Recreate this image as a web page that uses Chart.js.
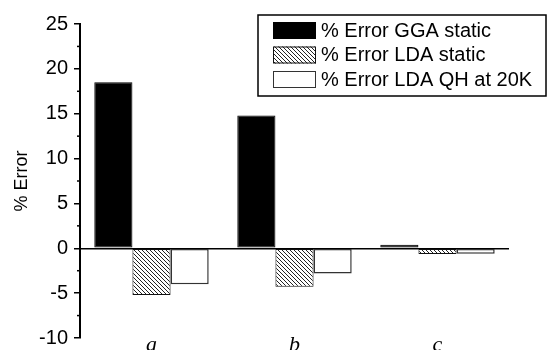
<!DOCTYPE html>
<html><head><meta charset="utf-8">
<script src="https://cdn.jsdelivr.net/npm/chart.js@4"></script>
<style>html,body{margin:0;padding:0;background:#fff;overflow:hidden}#wrap{width:547px;height:350px}</style>
</head><body><div id="wrap"><canvas id="c" width="547" height="350"></canvas></div>
<script>
const categories = ['a', 'b', 'c'];
const ggaStatic = [18.5, 14.8, 0.4];
const ldaStatic = [-5.2, -4.3, -0.65];
const ldaQH = [-4.0, -2.8, -0.6];
const seriesLabels = ['% Error GGA static', '% Error LDA static', '% Error LDA QH at 20K'];
const yTicks = [-10, -5, 0, 5, 10, 15, 20, 25];

function hatch() {
  const c = document.createElement('canvas'); c.width = 4; c.height = 4;
  const g = c.getContext('2d');
  g.fillStyle = '#fff'; g.fillRect(0, 0, 4, 4);
  g.strokeStyle = '#222'; g.lineWidth = 1;
  g.beginPath();
  g.moveTo(0, 0); g.lineTo(4, 4);
  g.moveTo(-1, 3); g.lineTo(1, 5);
  g.moveTo(3, -1); g.lineTo(5, 1);
  g.stroke();
  return g.createPattern(c, 'repeat');
}

const minorTicks = {
  id: 'minorTicks',
  afterDraw(chart) {
    const y = chart.scales.y, g = chart.ctx;
    g.save(); g.strokeStyle = '#000'; g.lineWidth = 1.5;
    for (let i = 0; i < yTicks.length - 1; i++) {
      const p = y.getPixelForValue((yTicks[i] + yTicks[i + 1]) / 2);
      g.beginPath(); g.moveTo(y.right - 3, p); g.lineTo(y.right, p); g.stroke();
    }
    g.restore();
  }
};

const legendBox = {
  id: 'legendBox',
  afterDraw(chart) {
    const g = chart.ctx;
    const L = 258, T = 15, R = 546, B = 96;
    g.save();
    g.fillStyle = '#fff'; g.fillRect(L, T, R - L, B - T);
    g.strokeStyle = '#000'; g.lineWidth = 1.5; g.strokeRect(L, T, R - L, B - T);
    chart.data.datasets.forEach((ds, i) => {
      const top = 22 + i * 24.5;
      g.fillStyle = ds.backgroundColor; g.fillRect(273, top, 43, 17);
      g.strokeStyle = ds.borderColor; g.lineWidth = 1; g.strokeRect(273.5, top + 0.5, 42, 16);
      g.fillStyle = '#000'; g.font = '20px "Liberation Sans"'; g.textBaseline = 'middle'; g.textAlign = 'left';
      g.fillText(ds.label, 321, top + 9);
    });
    g.restore();
  }
};

new Chart(document.getElementById('c'), {
  type: 'bar',
  data: {
    labels: categories,
    datasets: [
      { label: seriesLabels[0], data: ggaStatic, backgroundColor: '#000', borderColor: '#000', borderWidth: 1, borderSkipped: false },
      { label: seriesLabels[1], data: ldaStatic, backgroundColor: hatch(), borderColor: '#111', borderWidth: 1, borderSkipped: false },
      { label: seriesLabels[2], data: ldaQH, backgroundColor: '#fff', borderColor: '#333', borderWidth: 1.5, borderSkipped: false }
    ]
  },
  options: {
    responsive: false, animation: false,
    layout: { padding: { top: 24, right: 38, bottom: 0, left: 0 } },
    datasets: { bar: { categoryPercentage: 0.8, barPercentage: 1 } },
    plugins: { legend: { display: false }, tooltip: { enabled: false } },
    scales: {
      x: {
        grid: { display: false, drawTicks: false }, border: { display: false },
        ticks: { mirror: true, font: { family: 'Liberation Serif', style: 'italic', size: 22 }, color: '#000', padding: -20 },
        afterFit: s => { s.height = 12; s.paddingLeft = 0; s.paddingRight = 0; }
      },
      y: {
        min: -10, max: 25,
        afterBuildTicks: s => { s.ticks = yTicks.map(v => ({ value: v })); },
        grid: { color: c => (c.tick && c.tick.value === 0) ? '#000' : 'rgba(0,0,0,0)', lineWidth: 1.5, tickColor: '#000', tickLength: 6, tickWidth: 1.5 },
        border: { display: true, color: '#000', width: 2 },
        ticks: { font: { family: 'Liberation Sans', size: 20 }, color: '#000', padding: 6 },
        title: { display: true, text: '% Error', font: { family: 'Liberation Sans', size: 18 }, color: '#000', padding: { top: 11, bottom: 0 } },
        afterFit: s => { s.width = 80; s.paddingTop = 0; s.paddingBottom = 0; }
      }
    }
  },
  plugins: [minorTicks, legendBox]
});
</script></body></html>
